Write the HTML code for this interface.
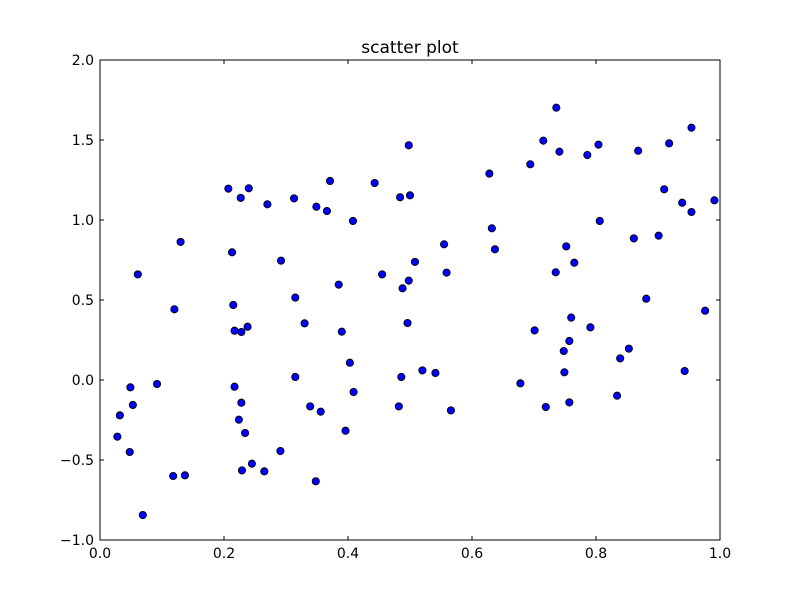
<!DOCTYPE html>
<html><head><meta charset="utf-8"><style>
body{margin:0;background:#fff;}
svg text{font-family:"DejaVu Sans","Liberation Sans",sans-serif;fill:#000;}
</style></head><body>
<svg id="chart" width="800" height="600" xmlns="http://www.w3.org/2000/svg">
<rect x="0" y="0" width="800" height="600" fill="#fff"/>
<text x="410" y="53" font-size="17" text-anchor="middle">scatter plot</text>
<g id="marks"></g>
<g id="axes"></g>
<rect x="100" y="60" width="620" height="480" fill="none" stroke="#000" stroke-width="1"/>
</svg>
<script>
const xs=[.061,.130,.207,.227,.240,.270,.313,.349,.366,.371,.408,.443,.484,.498,.500,.213,.292,.455,.385,.488,.498,.315,
.736,.954,.715,.741,.804,.786,.868,.918,.694,.628,.910,.939,.954,.991,.806,.632,.861,.901,.555,.637,.752,.508,.765,.559,.735,.881,
.120,.215,.217,.228,.238,.330,.390,.496,.403,.315,.486,.049,.092,.053,.032,.028,.048,.217,.228,.224,.234,.409,.339,.356,.482,.396,.291,.229,.245,.265,.118,.137,.348,.069,
.976,.760,.701,.791,.757,.748,.853,.839,.520,.541,.749,.943,.678,.834,.719,.757,.566];
const ys=[.660,.863,1.196,1.138,1.198,1.098,1.135,1.083,1.056,1.244,.994,1.231,1.142,1.467,1.154,.798,.746,.660,.596,.573,.621,.515,
1.702,1.577,1.496,1.427,1.471,1.406,1.433,1.479,1.348,1.290,1.192,1.108,1.050,1.123,.994,.948,.885,.902,.848,.817,.835,.738,.733,.671,.673,.508,
.442,.469,.308,.300,.333,.354,.302,.356,.108,.019,.019,-.046,-.025,-.156,-.221,-.354,-.45,-.042,-.142,-.248,-.331,-.075,-.165,-.198,-.165,-.317,-.444,-.565,-.523,-.571,-.6,-.596,-.633,-.844,
.433,.390,.310,.329,.244,.181,.196,.135,.060,.044,.048,.056,-.021,-.098,-.169,-.140,-.190];
const xTicks=[0,0.2,0.4,0.6,0.8,1.0];
const xTickLabels=["0.0","0.2","0.4","0.6","0.8","1.0"];
const yTicks=[-1,-0.5,0,0.5,1,1.5,2];
const yTickLabels=["\u22121.0","\u22120.5","0.0","0.5","1.0","1.5","2.0"];
const X0=100,X1=720,Y0=540,Y1=60,xmin=0,xmax=1,ymin=-1,ymax=2;
function sx(v){return X0+(v-xmin)/(xmax-xmin)*(X1-X0);}
function sy(v){return Y0-(v-ymin)/(ymax-ymin)*(Y0-Y1);}
const NS="http://www.w3.org/2000/svg";
const marks=document.getElementById('marks'),axes=document.getElementById('axes');
for(let i=0;i<xs.length;i++){
  const c=document.createElementNS(NS,'circle');
  c.setAttribute('cx',sx(xs[i]));c.setAttribute('cy',sy(ys[i]));c.setAttribute('r',3.6);
  c.setAttribute('fill','#0000ff');c.setAttribute('stroke','#000');c.setAttribute('stroke-width','0.9');
  
  
  marks.appendChild(c);
}
function line(x1,y1,x2,y2){const l=document.createElementNS(NS,'line');l.setAttribute('x1',x1);l.setAttribute('y1',y1);l.setAttribute('x2',x2);l.setAttribute('y2',y2);l.setAttribute('stroke','#000');l.setAttribute('stroke-width','1');return l;}
xTicks.forEach((t,i)=>{
  const x=sx(t);
  const a=line(x,Y0,x,Y0-4);
  
  
  axes.appendChild(a);
  const b=line(x,Y1,x,Y1+4);
  
  
  axes.appendChild(b);
  const tx=document.createElementNS(NS,'text');
  tx.setAttribute('x',x);tx.setAttribute('y',Y0+18);tx.setAttribute('font-size','14');tx.setAttribute('text-anchor','middle');
  tx.textContent=xTickLabels[i];
  
  
  axes.appendChild(tx);
});
yTicks.forEach((t,i)=>{
  const y=sy(t);
  const a=line(X0,y,X0+4,y);
  
  
  axes.appendChild(a);
  const b=line(X1,y,X1-4,y);
  
  
  axes.appendChild(b);
  const tx=document.createElementNS(NS,'text');
  tx.setAttribute('x',X0-6);tx.setAttribute('y',y+5);tx.setAttribute('font-size','14');tx.setAttribute('text-anchor','end');
  tx.textContent=yTickLabels[i];
  
  
  axes.appendChild(tx);
});
</script>
</body></html>
